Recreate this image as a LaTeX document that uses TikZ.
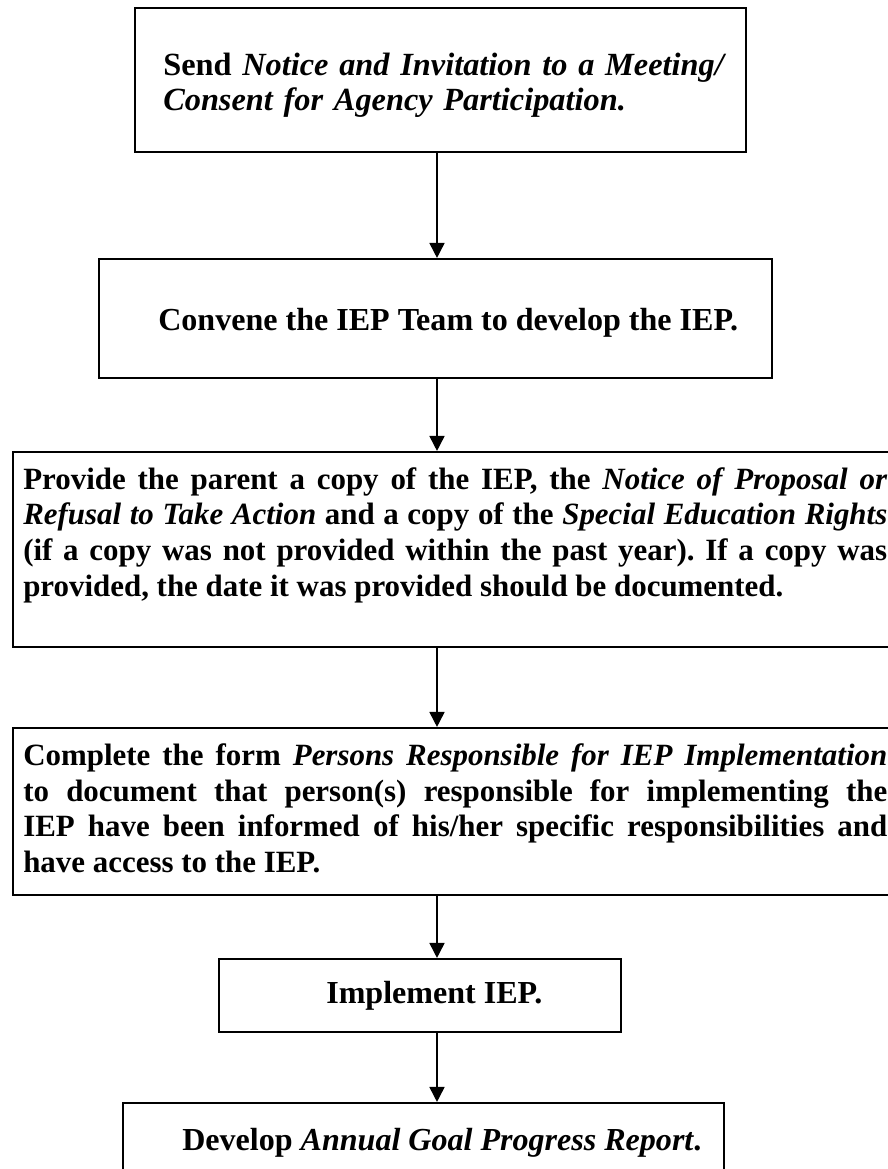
\documentclass[tikz,border=0pt]{standalone}
\usepackage{fontspec}
\setmainfont{Liberation Serif}
\usetikzlibrary{arrows.meta}
\frenchspacing

\newcommand{\stepfont}[1]{\fontsize{#1}{25.6pt}\selectfont\bfseries}

\begin{document}
\begin{tikzpicture}[
  box/.style={draw, line width=1.5pt, inner sep=0pt},
  txt/.style={inner sep=0pt, anchor=base west, font=\stepfont{22.8pt}},
  arr/.style={-{Triangle[length=10.7pt,width=10.7pt]}, line width=1.2pt},
]

\path[use as bounding box, fill=white] (0,0) rectangle (22.2,-29.225);
\coordinate (axis) at (10.925,0);

% boxes
\node[box, minimum width=15.275cm, minimum height=3.6cm]   (send)      at (11.0125,-2.0)    {};
\node[box, minimum width=16.825cm, minimum height=2.975cm] (convene)   at (10.8875,-7.9625) {};
\node[box, minimum width=22.175cm, minimum height=4.875cm] (provide)   at (11.4125,-13.7375) {};
\node[box, minimum width=22.175cm, minimum height=4.175cm] (complete)  at (11.4125,-20.2875) {};
\node[box, minimum width=10.05cm,  minimum height=1.825cm] (implement) at (10.5,-24.8875)    {};
\node[box, minimum width=15.025cm, minimum height=2.425cm] (develop)   at (10.5875,-28.7875) {};

% texts
\node[txt, font=\stepfont{23pt}, text width=15cm, align=left] (sendtxt) at (4.075,-1.875) {%
  Send \textit{Notice and Invitation to a Meeting/}\\
  \textit{Consent for Agency Participation.}};

\node[txt] (convenetxt) at (3.95,-8.25) {Convene the IEP Team to develop the IEP.};

\node[txt, font=\stepfont{22pt}, text width=21.6cm, align=justify] (providetxt) at (0.575,-12.225) {%
  Provide the parent a copy of the IEP, the \textit{Notice of Proposal or}\linebreak
  \textit{Refusal to Take Action} and a copy of the \textit{Special Education Rights}\linebreak
  (if a copy was not provided within the past year). If a copy was\linebreak
  provided, the date it was provided should be documented.};

\node[txt, font=\stepfont{22pt}, text width=21.6cm, align=justify] (completetxt) at (0.575,-19.125) {%
  Complete the form \textit{Persons Responsible for IEP Implementation}\linebreak
  to document that person(s) responsible for implementing the\linebreak
  IEP have been informed of his/her specific responsibilities and\linebreak
  have access to the IEP.};

\node[txt] (implementtxt) at (8.15,-25.075) {Implement IEP.};

\node[txt] (developtxt) at (4.55,-28.75) {Develop \textit{Annual Goal Progress Report}.};

% connectors
\draw[arr] (send.south -| axis)      -- (convene.north -| axis);
\draw[arr] (convene.south -| axis)   -- (provide.north -| axis);
\draw[arr] (provide.south -| axis)   -- (complete.north -| axis);
\draw[arr] (complete.south -| axis)  -- (implement.north -| axis);
\draw[arr] (implement.south -| axis) -- (develop.north -| axis);

\end{tikzpicture}
\end{document}
